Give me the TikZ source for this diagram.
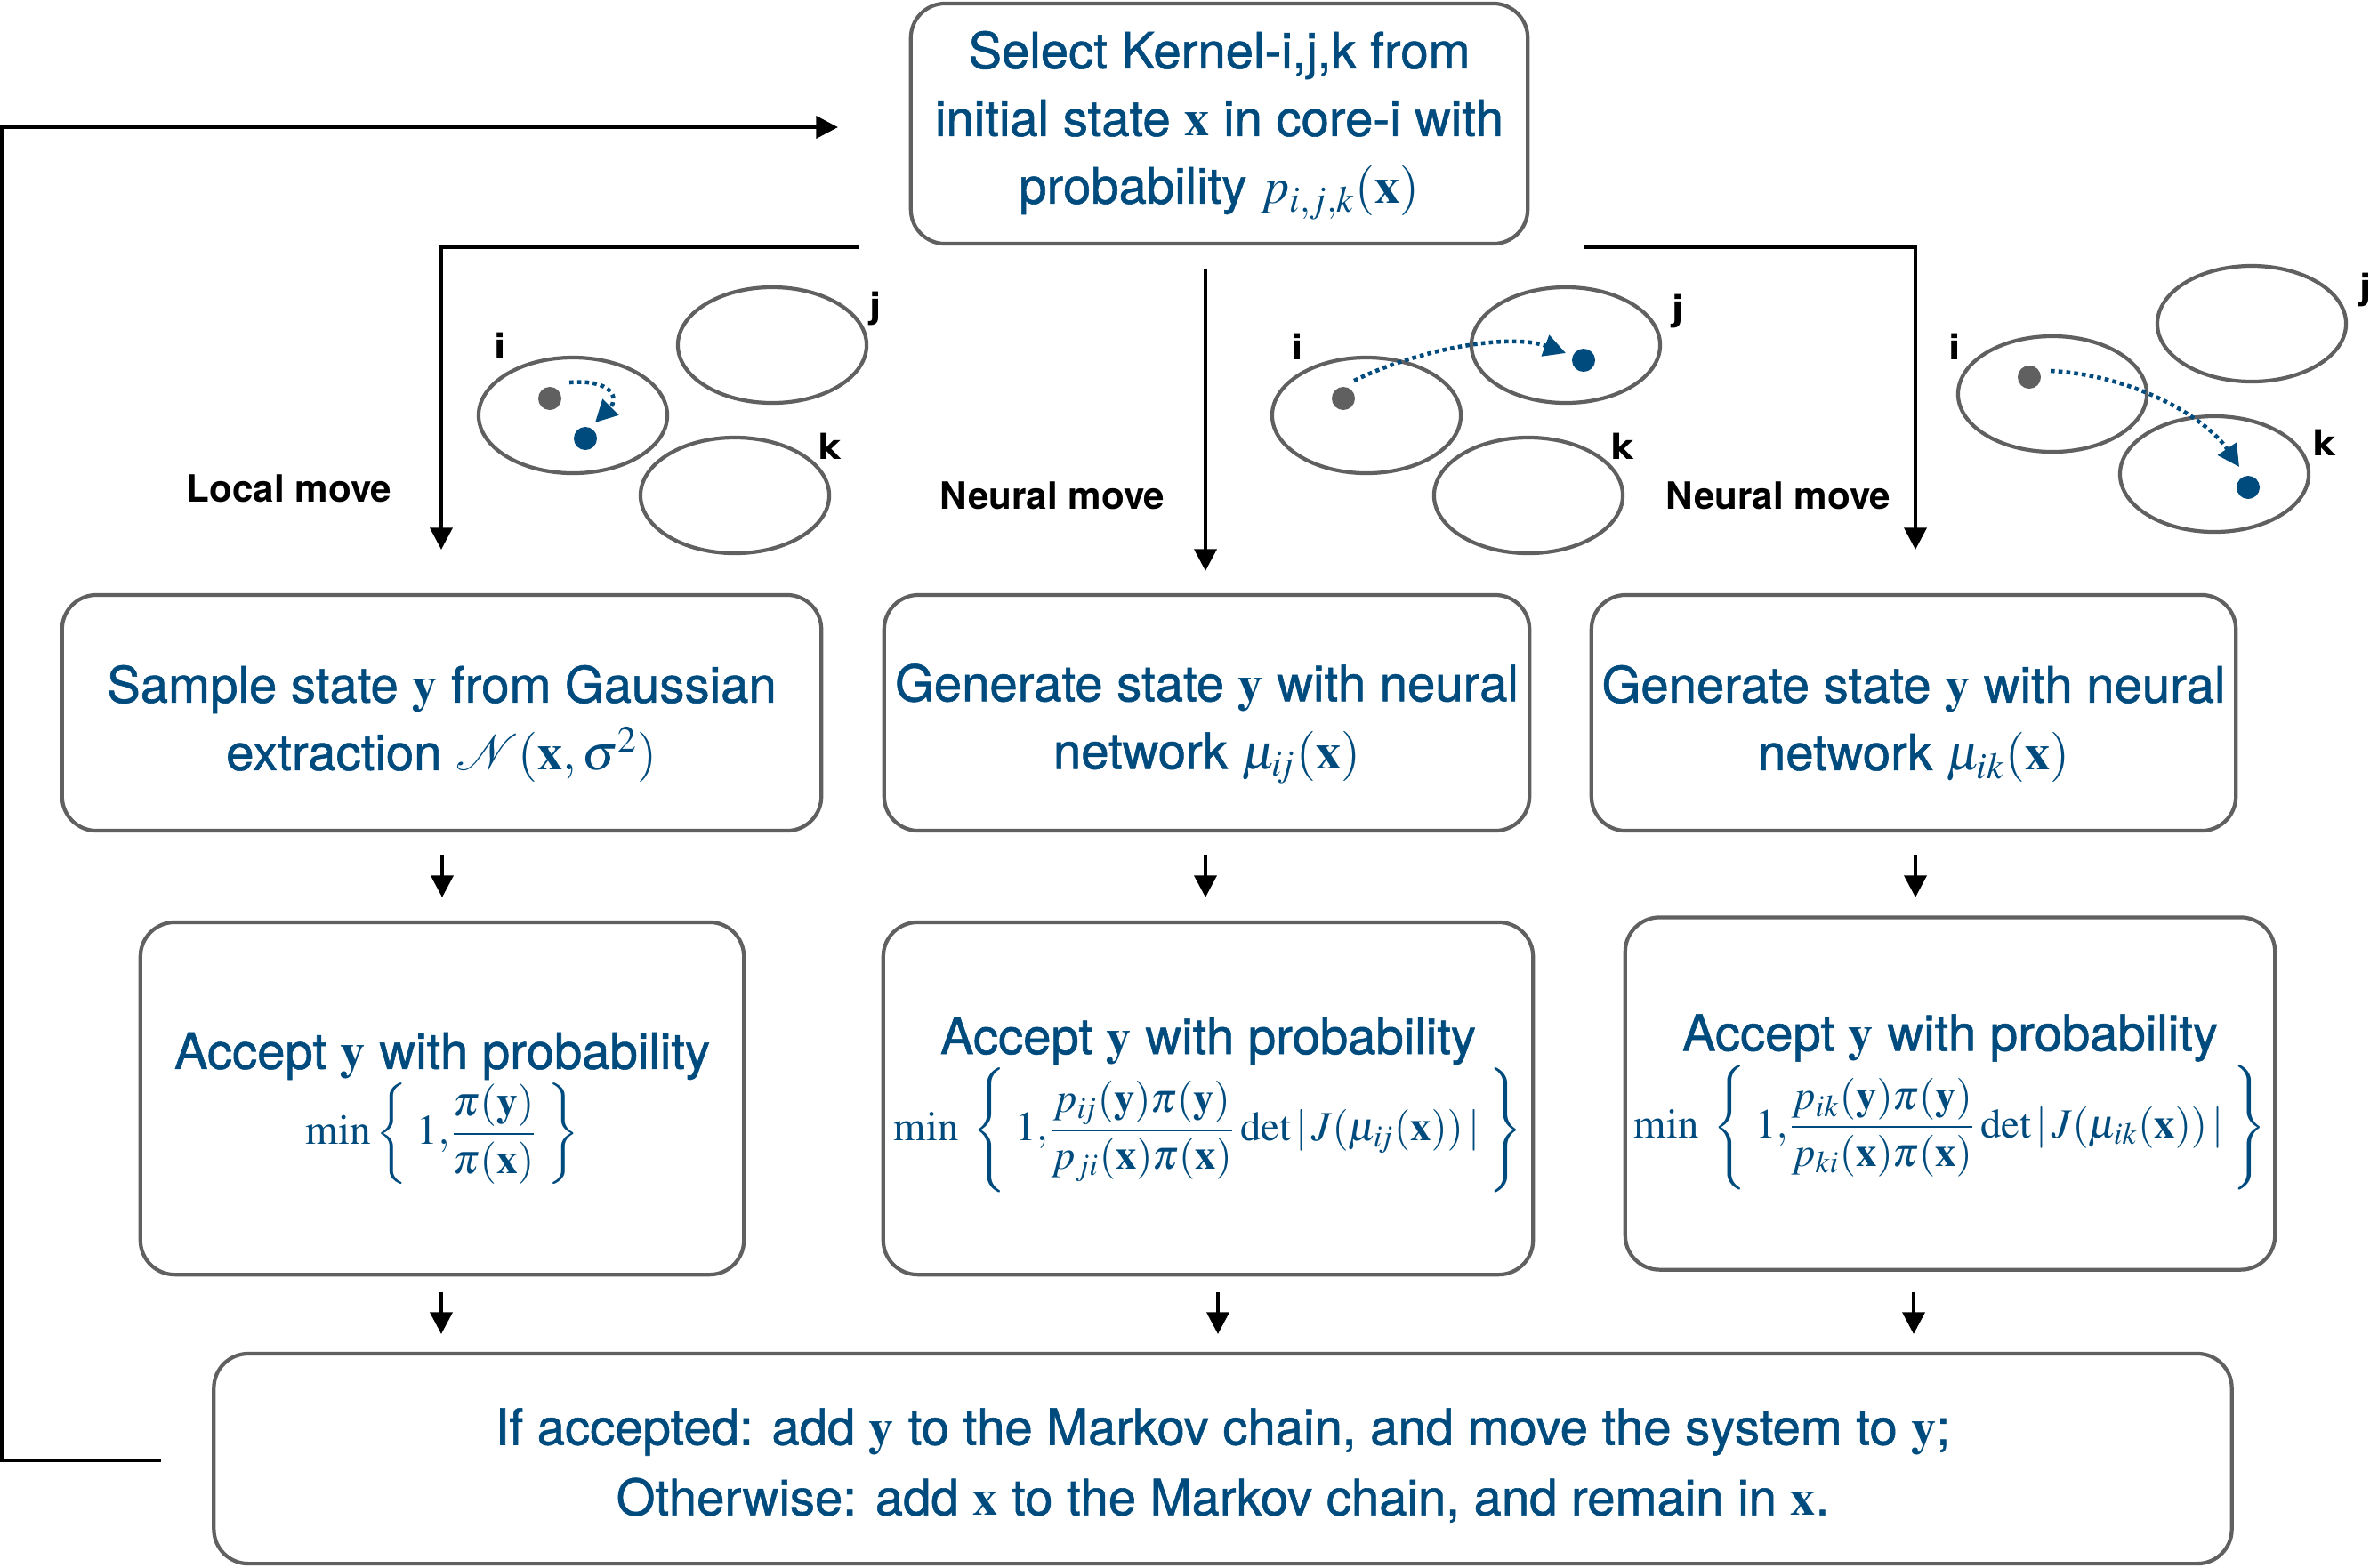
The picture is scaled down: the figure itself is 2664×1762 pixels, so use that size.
\documentclass[tikz,border=0pt]{standalone}
\usepackage{mathptmx}
\usepackage[no-math]{fontspec}
\newfontfamily\hv{TeX Gyre Heros}
\newfontfamily\hvt[FakeBold=1.0]{TeX Gyre Heros}
\newfontfamily\dvs{DejaVu Sans}
\usetikzlibrary{arrows.meta}
\definecolor{mblue}{RGB}{0,75,125}
\definecolor{lgray}{RGB}{96,96,96}
\newcommand\lift[1]{\rule{0pt}{#1}}
\begin{document}
\begin{tikzpicture}[x=0.01cm,y=-0.01cm,
  box/.style={draw=lgray, line width=1.2pt, rounded corners=11pt, inner sep=0pt,
    align=center, text=mblue, font=\hvt\fontsize{16}{21.6}\selectfont},
  flow/.style={line width=1.3pt, -{Triangle[length=7pt,width=7pt]}},
  core/.style={draw=lgray, line width=1.2pt},
  corelbl/.style={inner sep=0pt, font=\dvs\bfseries\fontsize{11}{13}\selectfont},
  movelbl/.style={inner sep=0pt, anchor=base, font=\hv\bfseries\fontsize{12}{14}\selectfont},
  jump/.style={draw=mblue, line width=1.3pt, dash pattern=on 1.3pt off 1.2pt,
    -{Triangle[length=7pt,width=7pt]}},
  olddot/.style={fill=lgray},
  newdot/.style={fill=mblue}
]
\useasboundingbox (0,0) rectangle (2664,1762);

% ---- process boxes ----
\node[box, minimum width=6.93cm, minimum height=2.70cm] (sel) at (1370.5,139)
  {\lift{13pt}Select Kernel-i,j,k from\\initial state $\mathbf{x}$ in core-i with\\probability $p_{i,j,k}(\mathbf{x})$};

\node[box, minimum width=8.53cm, minimum height=2.65cm] (gauss) at (496.5,801.5)
  {\lift{19pt}Sample state $\mathbf{y}$ from Gaussian\\extraction $\mathcal{N}(\mathbf{x},\sigma^2)$};
\node[box, minimum width=7.25cm, minimum height=2.65cm] (genj) at (1356.5,801.5)
  {\lift{19pt}Generate state $\mathbf{y}$ with neural\\network $\mu_{i\!j}(\mathbf{x})$};
\node[box, minimum width=7.24cm, minimum height=2.65cm] (genk) at (2151,801.5)
  {\lift{19pt}Generate state $\mathbf{y}$ with neural\\network $\mu_{ik}(\mathbf{x})$};

\node[box, minimum width=6.78cm, minimum height=3.96cm] (acca) at (497,1235)
  {\lift{18pt}Accept $\mathbf{y}$ with probability\\
   {\fontsize{13.5}{16}\selectfont$\displaystyle \min\bigg\{\;1{,}\frac{\pi(\mathbf{y})}{\pi(\mathbf{x})}\;\bigg\}$}};
\node[box, minimum width=7.30cm, minimum height=3.96cm] (accb) at (1358,1235)
  {\lift{16pt}Accept $\mathbf{y}$ with probability\\
   {\fontsize{13.3}{16}\selectfont$\displaystyle \min\;\Bigg\{\;1{,}\frac{p_{i\!j}(\mathbf{y})\pi(\mathbf{y})}{p_{ji}(\mathbf{x})\pi(\mathbf{x})}\det|\,J(\mu_{i\!j}(\mathbf{x}))\,|\;\Bigg\}$}};
\node[box, minimum width=7.30cm, minimum height=3.96cm] (accc) at (2192,1229.5)
  {\lift{17pt}Accept $\mathbf{y}$ with probability\\
   {\fontsize{13.3}{16}\selectfont$\displaystyle \min\;\Bigg\{\;1{,}\frac{p_{ik}(\mathbf{y})\pi(\mathbf{y})}{p_{ki}(\mathbf{x})\pi(\mathbf{x})}\det|\,J(\mu_{ik}(\mathbf{x}))\,|\;\Bigg\}$}};

\node[box, minimum width=22.67cm, minimum height=2.36cm, font=\hvt\fontsize{16}{22.5}\selectfont] (fin) at (1374.5,1640)
  {\lift{16pt}If accepted: add $\mathbf{y}$ to the Markov chain, and move the system to $\mathbf{y}$;\\
   Otherwise: add $\mathbf{x}$ to the Markov chain, and remain in $\mathbf{x}$.};

% ---- branch connectors ----
\coordinate (lb0) at (966,278);  \coordinate (lb1) at (496,278);  \coordinate (lb2) at (496,618);
\coordinate (cb0) at (1355,302); \coordinate (cb1) at (1355,642);
\coordinate (rb0) at (1780,278); \coordinate (rb1) at (2153,278); \coordinate (rb2) at (2153,618);
\draw[flow] (lb0) -- (lb1) -- (lb2);
\draw[flow] (cb0) -- (cb1);
\draw[flow] (rb0) -- (rb1) -- (rb2);

\node[movelbl] (lmove) at (325,564) {Local move};
\node[movelbl] (nmovej) at (1183,572) {Neural move};
\node[movelbl] (nmovek) at (1999,572) {Neural move};

% short arrows between the rows
\foreach \ax in {497,1355,2153}{
  \coordinate (s\ax a) at (\ax,961);
  \coordinate (s\ax b) at (\ax,1009);
  \draw[flow] (s\ax a) -- (s\ax b);
}
\foreach \ax in {496,1369,2151}{
  \coordinate (t\ax a) at (\ax,1453);
  \coordinate (t\ax b) at (\ax,1500);
  \draw[flow] (t\ax a) -- (t\ax b);
}

% feedback loop
\coordinate (fb0) at (181,1642);
\coordinate (fb1) at (2,1642);
\coordinate (fb2) at (2,143);
\coordinate (fb3) at (942,143);
\draw[flow] (fb0) -- (fb1) -- (fb2) -- (fb3);

% ---- cores i, j, k ----
\foreach \dx/\dy/\ix/\iy/\jx/\jy/\kx/\ky in
   {0/0/562/389/984/347/932/502,
    892/0/1458/390/1886/350/1823/502,
    1663/-24/2197/390/2659/326/2612/498}{
  \begin{scope}[shift={(\dx,\dy)}]
    \draw[core] (644,467) ellipse [x radius=1.06cm, y radius=0.65cm];
    \draw[core] (868,388) ellipse [x radius=1.06cm, y radius=0.65cm];
    \draw[core] (826,557) ellipse [x radius=1.06cm, y radius=0.65cm];
    \fill[olddot] (618,448) circle [radius=0.13cm];
  \end{scope}
  \node[corelbl] (ci\dx) at (\ix,\iy) {i};
  \node[corelbl] (cj\dx) at (\jx,\jy) {j};
  \node[corelbl] (ck\dx) at (\kx,\ky) {k};
}

% proposed states
\fill[newdot] (658,493) circle [radius=0.13cm];
\fill[newdot] (1780,405) circle [radius=0.13cm];
\fill[newdot] (2527,548) circle [radius=0.13cm];

\draw[jump] (640,430) .. controls (688,426) and (696,448) .. (669,475);
\draw[jump] (1522,428) .. controls (1600,390) and (1700,375) .. (1760,397);
\draw[jump] (2305,417) .. controls (2400,422) and (2480,470) .. (2517,525);
\end{tikzpicture}
\end{document}
